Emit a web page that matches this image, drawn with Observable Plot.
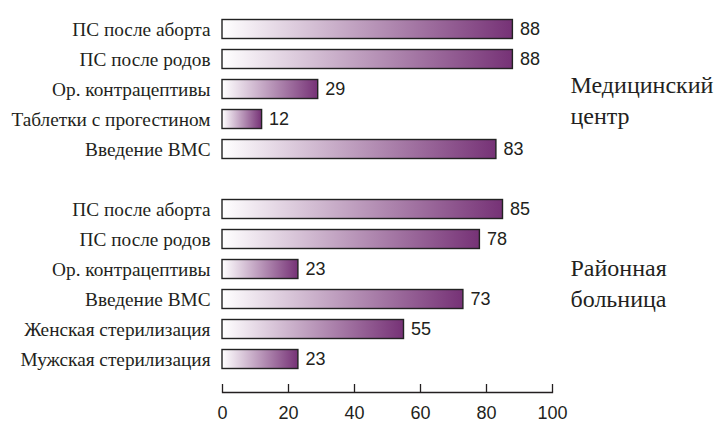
<!DOCTYPE html>
<html><head><meta charset="utf-8">
<script src="https://cdn.jsdelivr.net/npm/d3@7"></script>
<script src="https://cdn.jsdelivr.net/npm/@observablehq/plot@0.6"></script>
<style>
body{margin:0;background:#fff}
g[aria-label="y-axis tick label"], g[aria-label="y-axis tick label"] text {font-family: 'Liberation Serif', 'Times New Roman', serif !important; font-size: 19.3px !important;}
g[aria-label="x-axis tick label"], g[aria-label="x-axis tick label"] text {font-size: 18px !important;}
</style>
</head><body><div id="chart"></div>
<script>
const group1Categories = ["ПС после аборта","ПС после родов","Ор. контрацептивы","Таблетки с прогестином","Введение ВМС"];
const group1Values = [88, 88, 29, 12, 83];
const group2Categories = ["ПС после аборта","ПС после родов","Ор. контрацептивы","Введение ВМС","Женская стерилизация","Мужская стерилизация"];
const group2Values = [85, 78, 23, 73, 55, 23];
const groupNames = ["Медицинский\nцентр", "Районная\nбольница"];
const xTicks = [0, 20, 40, 60, 80, 100];

const rows = [
  ...group1Categories.map((c, i) => ({key: "1|" + c, value: group1Values[i]})),
  ...group2Categories.map((c, i) => ({key: "2|" + c, value: group2Values[i]}))
];
const domain = [...group1Categories.map(c => "1|" + c), "gap", ...group2Categories.map(c => "2|" + c)];
const group1Label = [{key: "1|" + group1Categories[2], text: groupNames[0]}];
const group2Label = [{key: "2|" + group2Categories[2], text: groupNames[1]}];

const SERIF = "'Liberation Serif', 'Times New Roman', serif";
const SANS = "'Liberation Sans', Arial, sans-serif";
const INK = "#231f20";

const groupTextOpts = {y: "key", text: "text", frameAnchor: "right", dx: 18, textAnchor: "start", lineAnchor: "middle", lineHeight: 1.317, fontFamily: SERIF, fontSize: 24, fill: INK};

const chart = Plot.plot({
  width: 716,
  height: 424,
  marginLeft: 222,
  marginRight: 164,
  marginTop: 8,
  marginBottom: 32,
  style: {fontFamily: SANS, fontSize: "18px", color: INK, background: "#fff"},
  x: {domain: [0, 100]},
  y: {type: "band", domain, range: [8.5, 379.5], padding: 0},
  marks: [
    Plot.frame({anchor: "bottom", stroke: INK, strokeWidth: 1.3}),
    Plot.axisX({ticks: xTicks, tickSize: -8, tickFormat: () => "", stroke: INK, strokeWidth: 1.3, label: null}),
    Plot.axisX({ticks: xTicks, tickSize: 0, tickPadding: 14, fill: INK, label: null}),
    Plot.axisY({tickSize: 0, tickPadding: 12, tickFormat: d => d === "gap" ? "" : d.slice(2), fill: INK, label: null}),
    Plot.barX(rows, {x: "value", y: "key", fill: "url(#barGrad)", stroke: "#222", strokeWidth: 1.4, insetTop: 5.5, insetBottom: 5.5}),
    Plot.text(rows, {x: "value", y: "key", text: d => String(d.value), dx: 7, textAnchor: "start", fontFamily: SANS, fontSize: 18, fill: INK}),
    Plot.text(group1Label, {...groupTextOpts, dy: 9}),
    Plot.text(group2Label, {...groupTextOpts, dy: 12})
  ]
});

const defs = d3.select(chart).insert("defs", ":first-child");
const grad = defs.append("linearGradient").attr("id", "barGrad").attr("x1", 0).attr("x2", 1).attr("y1", 0).attr("y2", 0);
grad.append("stop").attr("offset", "0%").attr("stop-color", "#ffffff");
grad.append("stop").attr("offset", "100%").attr("stop-color", "#763276");

document.getElementById("chart").appendChild(chart);
</script>
</body></html>
